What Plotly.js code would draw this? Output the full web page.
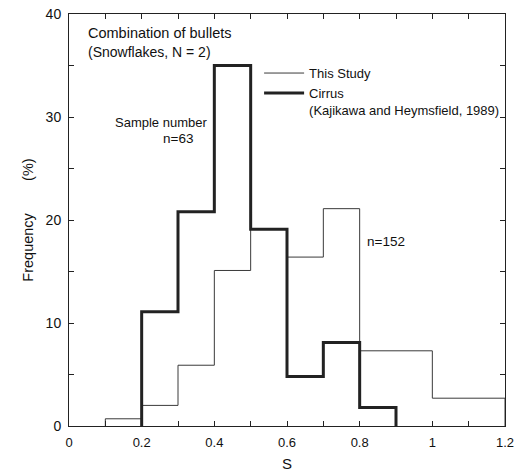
<!DOCTYPE html>
<html>
<head>
<meta charset="utf-8">
<script src="https://cdn.plot.ly/plotly-3.0.1.min.js"></script>
<style>html,body{margin:0;padding:0;background:#fff;}#chart{width:520px;height:472px;}</style>
</head>
<body>
<div id="chart"></div>
<script>
// Data
const studyEdges = [0.1, 0.2, 0.3, 0.4, 0.5, 0.6, 0.7, 0.8, 1.0, 1.2];
const studyFreq  = [0.7, 2.0, 5.9, 15.1, 19.1, 16.4, 21.1, 7.3, 2.7];
const cirrusEdges = [0.2, 0.3, 0.4, 0.5, 0.6, 0.7, 0.8, 0.9];
const cirrusFreq  = [11.1, 20.8, 35.0, 19.1, 4.8, 8.1, 1.8];
const xTickVals = [0, 0.2, 0.4, 0.6, 0.8, 1, 1.2];
const xTickText = ['0', '0.2', '0.4', '0.6', '0.8', '1', '1.2'];
const yTickVals = [0, 10, 20, 30, 40];

function stepXY(edges, vals) {
  const x = [edges[0]], y = [0];
  for (let i = 0; i < vals.length; i++) { x.push(edges[i]); y.push(vals[i]); }
  x.push(edges[edges.length - 1]); y.push(vals[vals.length - 1]);
  x.push(edges[edges.length - 1]); y.push(0);
  return {x, y};
}
const s = stepXY(studyEdges, studyFreq);
const c = stepXY(cirrusEdges, cirrusFreq);

const FONT = 'Liberation Sans, Arial, sans-serif';
const NB = '&nbsp;';
const traces = [
  {x: s.x, y: s.y, mode: 'lines', line: {shape: 'hv', color: '#3a3a3a', width: 1}, name: 'This Study'},
  {x: c.x, y: c.y, mode: 'lines', line: {shape: 'hv', color: '#222', width: 3}, name: 'Cirrus<br>(Kajikawa and Heymsfield, 1989)'}
];
const layout = {
  width: 520, height: 472,
  margin: {l: 69, r: 15, t: 14, b: 46},
  paper_bgcolor: '#fff', plot_bgcolor: '#fff',
  font: {family: FONT, size: 13, color: '#111'},
  showlegend: true,
  legend: {x: 0.436, y: 0.893, xanchor: 'left', yanchor: 'top', bgcolor: 'rgba(0,0,0,0)',
           font: {family: FONT, size: 13, color: '#111'}, valign: 'top', tracegroupgap: 0, itemwidth: 40},
  xaxis: {range: [0, 1.2], tickvals: xTickVals, ticktext: xTickText, ticks: 'inside', ticklen: 5,
          tickcolor: '#222', showline: true, linecolor: '#222', linewidth: 1, mirror: 'ticks',
          showgrid: false, zeroline: false, ticklabelstandoff: 4,
          minor: {dtick: 0.1, tick0: 0, ticks: 'inside', ticklen: 5, tickcolor: '#222', showgrid: false},
          title: {text: 'S', font: {size: 15, family: FONT}, standoff: 10},
          tickfont: {size: 13}},
  yaxis: {range: [0, 40], tickvals: yTickVals, ticks: 'inside', ticklen: 5,
          tickcolor: '#222', showline: true, linecolor: '#222', linewidth: 1, mirror: 'ticks',
          showgrid: false, zeroline: false, ticklabelstandoff: 4,
          minor: {dtick: 5, tick0: 0, ticks: 'inside', ticklen: 5, tickcolor: '#222', showgrid: false},
          title: {text: 'Frequency' + NB.repeat(8) + '(%)', font: {size: 14.5, family: FONT}, standoff: 8},
          tickfont: {size: 14}},
  annotations: [
    {xref: 'paper', yref: 'paper', x: 0.038, y: 0.953, xanchor: 'left', yanchor: 'middle', showarrow: false,
     align: 'left', text: 'Combination of bullets', font: {size: 14.5}},
    {xref: 'paper', yref: 'paper', x: 0.04, y: 0.908, xanchor: 'left', yanchor: 'middle', showarrow: false,
     align: 'left', text: '(Snowflakes, N = 2)', font: {size: 14}},
    {xref: 'paper', yref: 'paper', x: 0.1, y: 0.737, xanchor: 'left', yanchor: 'middle', showarrow: false,
     text: 'Sample number', font: {size: 13}},
    {xref: 'paper', yref: 'paper', x: 0.21, y: 0.698, xanchor: 'left', yanchor: 'middle', showarrow: false,
     text: 'n=63', font: {size: 13.5}},
    {xref: 'paper', yref: 'paper', x: 0.68, y: 0.449, xanchor: 'left', yanchor: 'middle', showarrow: false,
     text: 'n=152', font: {size: 13.5}}
  ]
};
Plotly.newPlot('chart', traces, layout, {displayModeBar: false, staticPlot: true});
</script>
</body>
</html>
